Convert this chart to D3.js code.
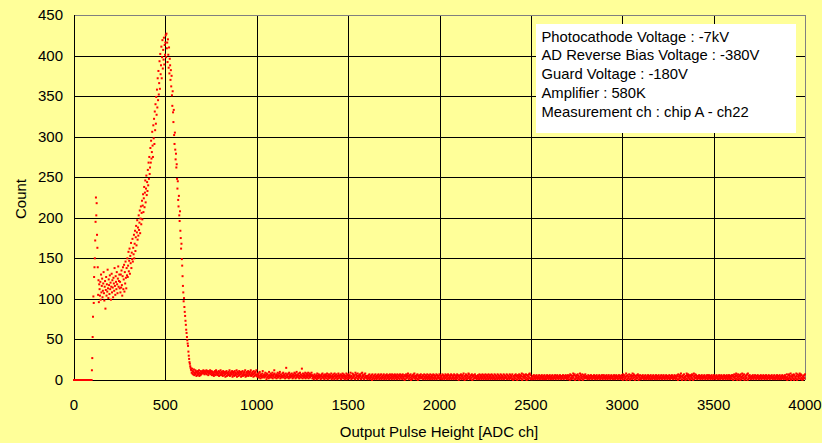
<!DOCTYPE html>
<html><head><meta charset="utf-8">
<script src="https://cdn.jsdelivr.net/npm/d3@7"></script>
<style>body{margin:0;background:#FFFF99;} svg{display:block;}</style>
</head><body><svg id="chart" width="822" height="443"></svg>
<script>
// ---- data (counts per ADC channel) ----
const xTicks = [0, 500, 1000, 1500, 2000, 2500, 3000, 3500, 4000];
const yTicks = [0, 50, 100, 150, 200, 250, 300, 350, 400, 450];
const xTitle = "Output Pulse Height [ADC ch]";
const yTitle = "Count";
const noteLines = [
  "Photocathode Voltage : -7kV",
  "AD Reverse Bias Voltage : -380V",
  "Guard Voltage : -180V",
  "Amplifier : 580K",
  "Measurement ch : chip A - ch22"
];
// channels 0..96, step 2
const pedestalCounts = [0,0,0,0,0,0,0,0,0,0,0,0,0,0,0,0,0,0,0,0,0,0,0,0,0,0,0,0,0,0,0,0,0,0,0,0,0,0,0,0,0,0,0,0,0,0,0,0,0];
// channels 98..138, step 2
const riseCounts = [12,27,53,78,103,95,127,139,150,172,195,225,203,218,179,163,139,105,123,96,118];
// channels 140..250, step 2
const valleyCounts = [112,104,121,99,130,108,116,125,102,110,119,133,107,98,115,122,88,111,127,104,118,109,136,113,101,124,117,106,129,112,120,99,115,131,108,123,114,102,126,119,110,138,116,105,128,121,112,133,118,107,125,140,115,122,130,113];
// channels 252..500, step 2
const flankCounts = [121,108,130,114,135,117,104,128,139,112,124,142,109,133,119,146,126,113,138,129,
  150,127,141,158,134,147,162,131,153,144,169,138,157,149,174,146,163,155,179,150,
  168,184,159,176,190,166,182,197,173,188,178,203,185,194,209,181,199,214,192,206,
  221,198,215,229,207,224,238,213,231,246,219,236,252,228,244,233,259,240,268,248,
  275,254,262,286,268,295,273,281,306,289,275,314,298,322,291,331,308,340,316,349,
  327,358,336,372,345,381,352,366,393,359,402,377,388,411,372,398,419,384,407,395,422,389,413,401,416];
// channels 502..700, step 2
const fallCounts = [425,398,427,409,416,392,420,401,385,410,378,396,388,370,382,
  362,375,351,338,356,330,318,333,302,291,305,284,272,279,262,266,248,236,245,222,214,227,203,196,208,184,175,162,168,149,141,128,116,108,97,101,90,84,79,73,68,62,58,53,49,45,42,35,30,26,22,20,17,15,13,
  12,9,14,8,11,7,10,13,6,9,8,12,7,10,5,9,11,6,8,10,7,12,5,9,8,6,11,7,9,8];
// channels 700..4000 in blocks of 300 channels, one hex digit per sampled channel
const tailBlockStarts = [700, 1000, 1300, 1600, 1900, 2200, 2500, 2800, 3100, 3400, 3700];
const tailBlocks = [
  "ab9c8a7b9a8c7b9a6b8a9c7a8b6a9785a7b96c8a7968b5a97c68a795b8a6974a8b59768a7c5968a7b4968a5b7968c4a7958b6a7948a6b5879a6c4795a86b5978a6c5869a74b8596a7c5",
  "6485739a5274638b5463759461837452a6348573692547c83645275936485a2746358493675248f635748294637548526374958263a5746382594736e52846375924683759264837569",
  "5263514735246183527436415274835261473526841537246358142637418526374152864352716438527461352846137425639415283745261937452815364725183946251738452",
  "3415263714253607243516274315263741526371425367142536174253614726351742635174263517436251743625174326051472536841526370425163748251346270513642573",
  "2436152734162537142635172436153726143527163425371624351726341527364152736142537162435172634153726405136274152638140527361452873415263704516237452",
  "3152643172536142735162437152634172536142736152437162534172635142736153427163524371625341726354172054136275140632571436258014736254173062514738261",
  "2314251634215362413526314253614235162431526342153624135263142536214356231452634152436215342635124631540726315248361705243617352048163527041635274",
  "3524136251432635142536241352631425364132546213562431526341256342135624315264213562431526432153624073516243805162347105263418527360415236274051362",
  "1425362413526314253614235162431526342153624135263142536214356231452634152436215342635124362514326507142635814053627143052861473520641537260481537",
  "2635142536241352631425364132546213562431526341256342135624315264213562431526432153624153624135264160537241682503714625073148526370145263708152364",
  "3142536214356231452634152436215342635124362514326351425362413526314253614235162431526342153624137042617352804163527061432850714362851736204153627"
];

// ---- build points ----
const segments = [
  {start: 0, step: 2, counts: pedestalCounts},
  {start: 98, step: 2, counts: riseCounts},
  {start: 140, step: 2, counts: valleyCounts},
  {start: 252, step: 2, counts: flankCounts},
  {start: 502, step: 2, counts: fallCounts}
];
tailBlocks.forEach((s, k) => {
  const counts = s.split("").map(c => parseInt(c, 16));
  segments.push({start: tailBlockStarts[k] + 2, step: 300 / counts.length, counts});
});
const points = [];
segments.forEach(s => s.counts.forEach((v, i) => {
  const ch = s.start + i * s.step;
  if (ch <= 4000) points.push({ch, v});
}));

// ---- layout ----
const svg = d3.select("#chart");
const pL = 74, pR = 805, pT = 15, pB = 380;
const x = d3.scaleLinear().domain([0, 4000]).range([pL, pR]);
const y = d3.scaleLinear().domain([0, 450]).range([pB, pT]);
const font = "Arial, 'Liberation Sans', sans-serif";

svg.append("rect").attr("width", 822).attr("height", 443).attr("fill", "#FFFF99");

// grid
svg.append("g").attr("transform", `translate(0,${pB})`)
  .call(d3.axisBottom(x).tickValues(xTicks).tickSize(-(pB - pT)).tickFormat(""))
  .call(g => g.select(".domain").remove())
  .call(g => g.selectAll("line").attr("stroke", "#000").attr("shape-rendering", "crispEdges"));
svg.append("g").attr("transform", `translate(${pL},0)`)
  .call(d3.axisLeft(y).tickValues(yTicks).tickSize(-(pR - pL)).tickFormat(""))
  .call(g => g.select(".domain").remove())
  .call(g => g.selectAll("line").attr("stroke", "#000").attr("shape-rendering", "crispEdges"));

// frame
svg.append("line").attr("x1", pL).attr("x2", pR).attr("y1", pT + 0.5).attr("y2", pT + 0.5).attr("stroke", "#808080");
svg.append("line").attr("x1", pR + 0.5).attr("x2", pR + 0.5).attr("y1", pT).attr("y2", pB).attr("stroke", "#808080");
svg.append("line").attr("x1", pL + 0.5).attr("x2", pL + 0.5).attr("y1", pT).attr("y2", pB).attr("stroke", "#000");
svg.append("line").attr("x1", pL).attr("x2", pR).attr("y1", pB + 0.5).attr("y2", pB + 0.5).attr("stroke", "#000");

// tick labels
svg.append("g").selectAll("text").data(yTicks).join("text")
  .attr("x", 63).attr("y", d => y(d) + 5).attr("text-anchor", "end")
  .attr("font-family", font).attr("font-size", 15).attr("fill", "#000").text(d => d);
svg.append("g").selectAll("text").data(xTicks).join("text")
  .attr("x", d => x(d)).attr("y", 410).attr("text-anchor", "middle")
  .attr("font-family", font).attr("font-size", 15).attr("fill", "#000").text(d => d);

// axis titles
svg.append("text").attr("x", 439).attr("y", 437).attr("text-anchor", "middle")
  .attr("font-family", font).attr("font-size", 15).attr("fill", "#000").text(xTitle);
svg.append("text").attr("transform", "translate(26,199) rotate(-90)").attr("text-anchor", "middle")
  .attr("font-family", font).attr("font-size", 15).attr("fill", "#000").text(yTitle);

// data points
svg.append("g").selectAll("rect").data(points).join("rect")
  .attr("x", d => x(d.ch) - 1).attr("y", d => y(d.v) - 1)
  .attr("width", 2).attr("height", 2).attr("fill", "#FF0000");

// note box
svg.append("rect").attr("x", 536).attr("y", 24).attr("width", 260).attr("height", 109).attr("fill", "#FFFFFF");
svg.append("g").selectAll("text").data(noteLines).join("text")
  .attr("x", 541.5).attr("y", (d, i) => 41.7 + i * 18.75)
  .attr("font-family", font).attr("font-size", 14.8).attr("fill", "#000").text(d => d);
</script></body></html>
